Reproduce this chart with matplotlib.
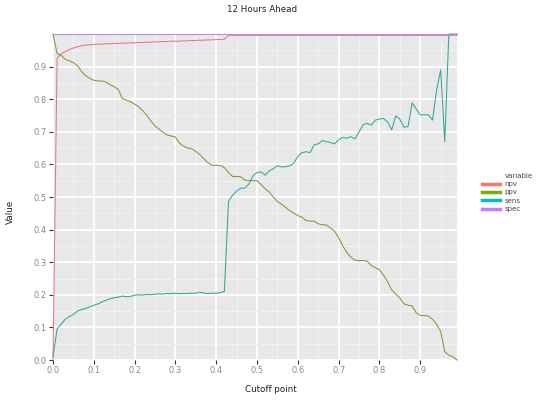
import matplotlib
matplotlib.use("Agg")
import matplotlib.pyplot as plt
from matplotlib.ticker import MultipleLocator
from matplotlib.lines import Line2D

cutoff = [round(i * 0.01, 2) for i in range(100)]

npv = [0.0, 0.925, 0.940, 0.946, 0.952, 0.957, 0.961, 0.964, 0.966, 0.967,
       0.968, 0.969, 0.969, 0.970, 0.970, 0.971, 0.971, 0.972, 0.972, 0.973,
       0.973, 0.974, 0.974, 0.975, 0.975, 0.976, 0.976, 0.977, 0.977, 0.978,
       0.978, 0.978, 0.979, 0.979, 0.980, 0.980, 0.981, 0.981, 0.982, 0.982,
       0.983, 0.983, 0.984, 0.996, 0.996, 0.996, 0.996, 0.996, 0.996, 0.996,
       0.996, 0.996, 0.996, 0.996, 0.996, 0.996, 0.996, 0.996, 0.996, 0.996,
       0.996, 0.996, 0.996, 0.996, 0.996, 0.996, 0.996, 0.996, 0.996, 0.996,
       0.996, 0.996, 0.996, 0.996, 0.996, 0.996, 0.996, 0.996, 0.996, 0.996,
       0.996, 0.996, 0.996, 0.996, 0.996, 0.996, 0.996, 0.996, 0.996, 0.996,
       0.996, 0.996, 0.996, 0.996, 0.996, 0.996, 0.996, 0.996, 0.996, 0.996]

ppv = [1.000, 0.940, 0.935, 0.922, 0.918, 0.912, 0.903, 0.885, 0.872, 0.864,
       0.858, 0.856, 0.856, 0.852, 0.844, 0.838, 0.830, 0.802, 0.797, 0.792,
       0.785, 0.777, 0.765, 0.750, 0.733, 0.718, 0.708, 0.698, 0.690, 0.687,
       0.684, 0.665, 0.656, 0.650, 0.648, 0.640, 0.630, 0.617, 0.605, 0.597,
       0.597, 0.597, 0.590, 0.575, 0.563, 0.563, 0.562, 0.552, 0.550, 0.550,
       0.550, 0.538, 0.525, 0.515, 0.500, 0.486, 0.478, 0.468, 0.458, 0.450,
       0.443, 0.438, 0.428, 0.426, 0.426, 0.418, 0.415, 0.414, 0.405, 0.395,
       0.375, 0.350, 0.330, 0.315, 0.306, 0.305, 0.305, 0.303, 0.290, 0.283,
       0.277, 0.260, 0.240, 0.215, 0.202, 0.190, 0.172, 0.168, 0.166, 0.145,
       0.137, 0.136, 0.135, 0.125, 0.110, 0.088, 0.025, 0.015, 0.010, 0.000]

sens = [0.010, 0.095, 0.110, 0.125, 0.133, 0.140, 0.150, 0.155, 0.158, 0.163,
        0.168, 0.172, 0.178, 0.183, 0.188, 0.191, 0.193, 0.196, 0.194, 0.195,
        0.199, 0.200, 0.199, 0.201, 0.200, 0.202, 0.203, 0.202, 0.204, 0.203,
        0.205, 0.203, 0.204, 0.204, 0.205, 0.205, 0.208, 0.205, 0.204, 0.205,
        0.205, 0.207, 0.210, 0.486, 0.505, 0.518, 0.527, 0.527, 0.540, 0.565,
        0.575, 0.577, 0.567, 0.580, 0.587, 0.596, 0.592, 0.593, 0.596, 0.603,
        0.625, 0.636, 0.639, 0.636, 0.660, 0.663, 0.673, 0.670, 0.667, 0.663,
        0.675, 0.683, 0.680, 0.685, 0.678, 0.700, 0.722, 0.726, 0.721, 0.736,
        0.739, 0.741, 0.730, 0.706, 0.749, 0.739, 0.714, 0.716, 0.789, 0.770,
        0.752, 0.752, 0.752, 0.736, 0.828, 0.890, 0.670, 1.000, 1.000, 1.000]

spec = [1.0] * 100

series_names = ["npv", "ppv", "sens", "spec"]
series_colors = ["#F8766D", "#7CAE00", "#00BFC4", "#C77CFF"]
line_colors = ["#E8777A", "#7D9A3A", "#2FA89A", "#B08AE8"]

fig = plt.figure(figsize=(5.4, 4.0), dpi=100)
ax = fig.add_axes([53 / 540, 40 / 400, 404 / 540, 326 / 400])
ax.set_facecolor("#E8E8E8")
for s in ax.spines.values():
    s.set_visible(False)

ax.xaxis.set_major_locator(MultipleLocator(0.1))
ax.yaxis.set_major_locator(MultipleLocator(0.1))
ax.xaxis.set_minor_locator(MultipleLocator(0.05))
ax.yaxis.set_minor_locator(MultipleLocator(0.05))
ax.grid(which="major", color="white", linewidth=1.3)
ax.grid(which="minor", color="#F2F2F2", linewidth=0.7)
ax.set_axisbelow(True)

data = [npv, ppv, sens, spec]
for vals, c in zip(data, line_colors):
    ax.plot(cutoff, vals, color=c, linewidth=0.75, clip_on=False)

ax.set_xlim(0, 0.99)
ax.set_ylim(0, 1.0)
xt = [i / 10 for i in range(10)]
yt = [i / 10 for i in range(10)]
ax.set_xticks(xt)
ax.set_yticks(yt)
ax.set_xticklabels([f"{v:.1f}" for v in xt])
ax.set_yticklabels([f"{v:.1f}" for v in yt])
ax.tick_params(axis="both", which="major", labelsize=6, colors="#333333",
               labelcolor="#888888", length=3, width=0.8, pad=1.5)
ax.tick_params(axis="both", which="minor", length=0)

fig.text(0.485, 1 - 10 / 400, "12 Hours Ahead", ha="center", va="center",
         fontsize=6.3, color="#222222")
fig.text(0.502, 1 - 389 / 400, "Cutoff point", ha="center", va="center",
         fontsize=6.3, color="#222222")
fig.text(10 / 540, 1 - 212 / 400, "Value", ha="center", va="center",
         rotation=90, fontsize=6.3, color="#222222")

fig.text(505 / 540, 1 - 176 / 400, "variable", ha="left", va="center",
         fontsize=5, color="#444444")
handles = [Line2D([0], [0], color=c, linewidth=2.5) for c in series_colors]
fig.legend(handles, series_names, loc="upper left",
           bbox_to_anchor=(482 / 540, 1 - 181 / 400), frameon=False,
           fontsize=5, handlelength=2.6, borderpad=0.0, borderaxespad=0.0,
           handletextpad=0.6, labelspacing=0.35, labelcolor="#444444")

fig.savefig("out.png", dpi=100)
